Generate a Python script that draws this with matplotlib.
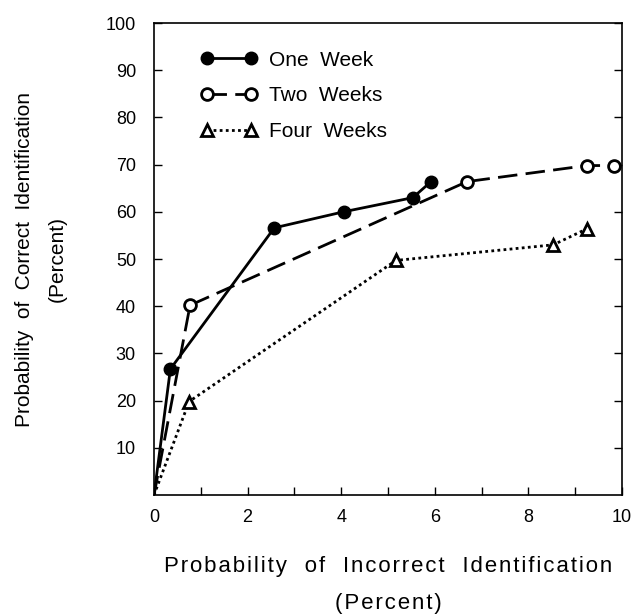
import matplotlib.pyplot as plt
from matplotlib.ticker import MultipleLocator

plt.rcParams['font.family'] = ['Liberation Sans', 'DejaVu Sans']

# false alarm rate (x) vs hit rate (y), both in percent
oneWeekX = [0, 0.35, 2.57, 4.05, 5.53, 5.92]
oneWeekY = [0, 26.7, 56.6, 60.0, 63.0, 66.4]

twoWeeksX = [0, 0.77, 6.69, 9.25, 9.83]
twoWeeksY = [0, 40.2, 66.4, 69.8, 69.8]

fourWeeksX = [0, 0.75, 5.17, 8.53, 9.25]
fourWeeksY = [0, 19.8, 49.7, 53.0, 56.4]

xTicks = [0, 2, 4, 6, 8, 10]
yTicks = [10, 20, 30, 40, 50, 60, 70, 80, 90, 100]


def tracked(text, gap="\u200a"):
    # widen letter spacing by putting a hair space between characters
    return gap.join(text)


fig = plt.figure(figsize=(6.32, 6.15), dpi=100)
ax = fig.add_axes([0.2437, 0.1951, 0.9842 - 0.2437, 0.9626 - 0.1951])

ax.plot(oneWeekX, oneWeekY, color="black", linestyle="-", linewidth=2,
        marker="o", markersize=9, markerfacecolor="black",
        markevery=list(range(1, len(oneWeekX))), label="One  Week")
ax.plot(twoWeeksX, twoWeeksY, color="black", linestyle=(0, (7, 3)), linewidth=2,
        marker="o", markersize=8.5, markerfacecolor="white", markeredgewidth=2,
        markevery=list(range(1, len(twoWeeksX))), label="Two  Weeks")
ax.plot(fourWeeksX, fourWeeksY, color="black", linestyle=(0, (1, 1.2)), linewidth=2,
        marker="^", markersize=9, markerfacecolor="white", markeredgewidth=2,
        markevery=list(range(1, len(fourWeeksX))), label="Four  Weeks")

ax.set_xlim(0, 10)
ax.set_ylim(0, 100)
ax.set_xticks(xTicks)
ax.set_yticks(yTicks)
ax.xaxis.set_minor_locator(MultipleLocator(1))
ax.tick_params(axis="both", which="both", direction="in", length=6, width=1,
               labelsize=13, right=True)
ax.tick_params(axis="y", pad=13)
ax.tick_params(axis="x", pad=10)

for spine in ax.spines.values():
    spine.set_linewidth(1.2)

ax.set_xlabel(tracked("Probability  of  Incorrect  Identification") + "\n" + tracked("(Percent)"),
              fontsize=16, linespacing=1.95)
ax.xaxis.set_label_coords(0.5, -0.13)
ax.set_ylabel("Probability  of  Correct  Identification\n(Percent)",
              fontsize=15, linespacing=1.9)
ax.yaxis.set_label_coords(-0.186, 0.5)

ax.legend(loc="upper left", bbox_to_anchor=(0.06, 0.981), frameon=False,
          numpoints=2, handlelength=2.7, fontsize=15, labelspacing=0.8,
          handletextpad=0.55)

fig.savefig("out.png", dpi=100)
